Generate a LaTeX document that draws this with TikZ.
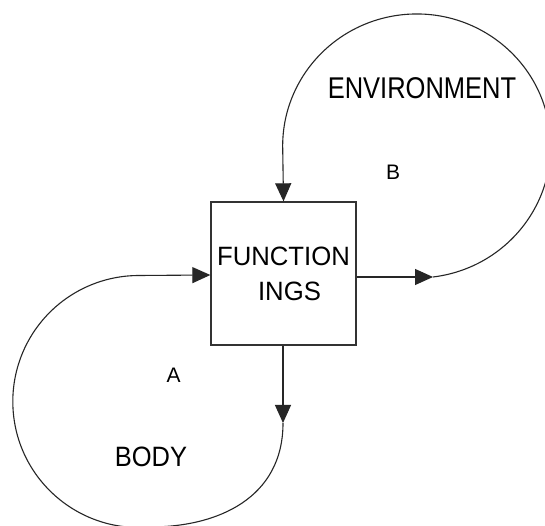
\documentclass[tikz,border=0pt]{standalone}
\usepackage{fontspec}
\setmainfont{Liberation Sans}
\newfontfamily\envfont[FakeStretch=0.85]{Liberation Sans}
\newfontfamily\bodyfont[FakeStretch=0.91]{Liberation Sans}
\newfontfamily\fnfont[FakeStretch=0.97]{Liberation Sans}
\usetikzlibrary{arrows.meta}
\begin{document}
\begin{tikzpicture}[x=1pt,y=1pt,
  conn/.style={line width=1.1pt, draw=black!85},
  tip/.style={-{Triangle[length=18pt,width=16pt]}},
  lbl/.style={anchor=base, inner sep=0pt, text=black}]
\useasboundingbox[fill=white] (0,0) rectangle (545,526);
\node[draw=black!80, line width=1.3pt, minimum width=145pt, minimum height=143pt, inner sep=0pt] (box) at (283.5,252.5) {};
\node[lbl, font=\fnfont\fontsize{26.5}{30}\selectfont] (fn1) at (283.5,260) {FUNCTION};
\node[lbl, font=\fnfont\fontsize{26.5}{30}\selectfont] (fn2) at (289.5,225) {INGS};
\node[lbl, font=\envfont\fontsize{30}{34}\selectfont] (env) at (422,427) {ENVIRONMENT};
\node[lbl, font=\bodyfont\fontsize{28}{32}\selectfont] (body) at (151,59) {BODY};
\node[lbl, font=\fontsize{21}{24}\selectfont] (la) at (173.5,143) {A};
\node[lbl, font=\fontsize{21}{24}\selectfont] (lb) at (393,346) {B};
\coordinate (c1) at (433,249);
\coordinate (c2) at (283,103);
\coordinate (c3) at (137,251);
\draw[conn,tip] (box.east |- c1) -- (c1);
\draw[conn,tip] (c1) arc[start angle=-83, end angle=180, x radius=134, y radius=132] -- (box.north);
\draw[conn,tip] (box.south -| c2) -- (c2);
\draw[conn,tip] (c2) .. controls (283,28) and (218,-1) .. (150,-1)
  arc[start angle=-84.9, end angle=-270, radius=126] -- (box.west |- c3);
\end{tikzpicture}
\end{document}
